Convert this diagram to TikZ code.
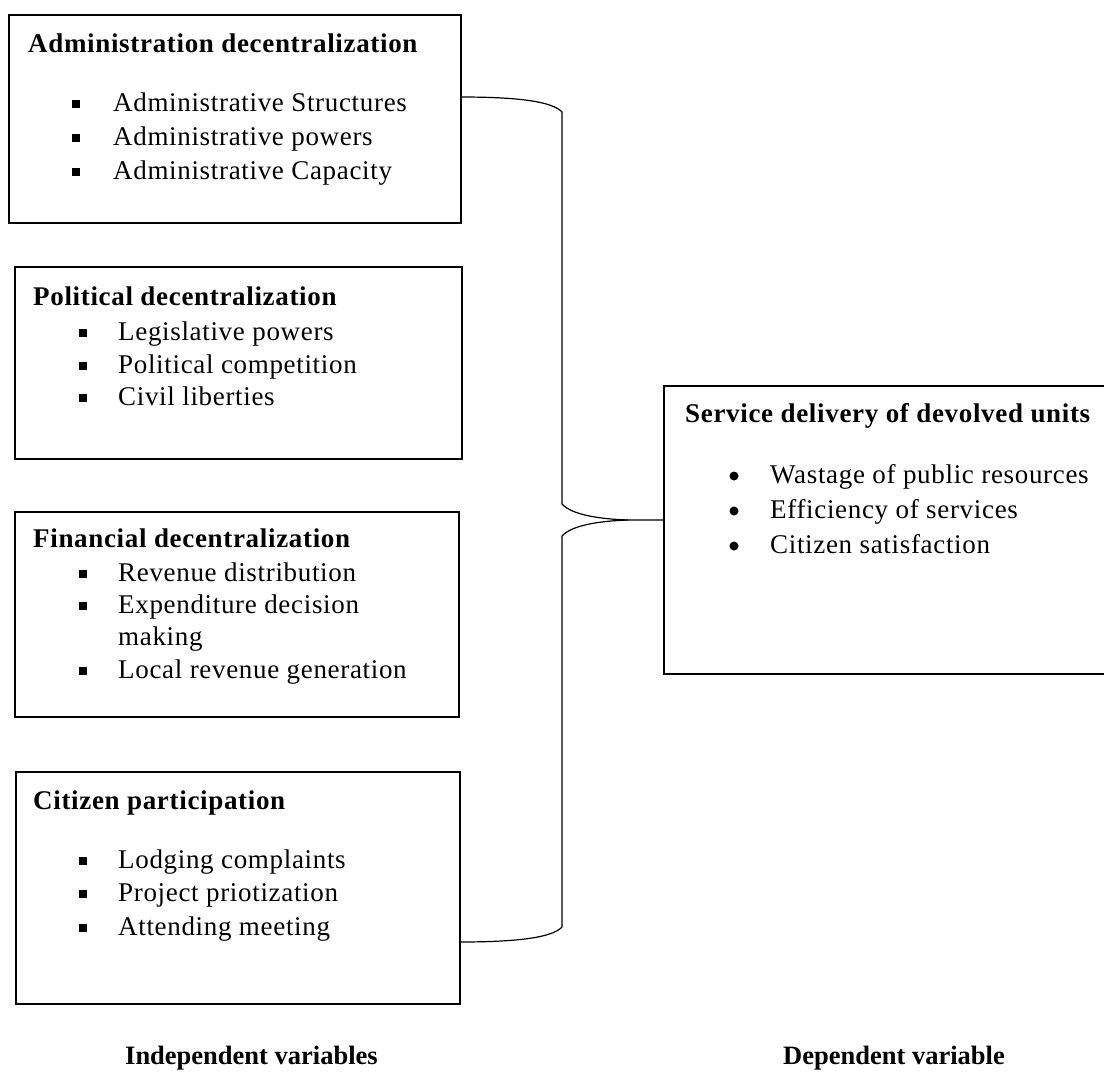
\documentclass[tikz,border=0pt]{standalone}
\usepackage{fontspec}
\setmainfont{Liberation Serif}
\newfontfamily\bxfont{Liberation Serif}[LetterSpace=2.5]
\begin{document}
\begin{tikzpicture}[x=1pt,y=-1pt,
  box/.style={draw, line width=1.2pt, anchor=north west, inner sep=0pt, outer sep=0pt},
  txt/.style={anchor=base west, inner sep=0pt, font=\bxfont\fontsize{27}{32}\selectfont},
  ttl/.style={anchor=base west, inner sep=0pt, font=\bxfont\bfseries\fontsize{27}{32}\selectfont},
  lbl/.style={anchor=base west, inner sep=0pt, font=\bfseries\fontsize{26.5}{32}\selectfont},
  conn/.style={line width=1.2pt}]
\clip (0,0) rectangle (1104,1072);
\fill[white] (0,0) rectangle (1104,1072);

% boxes
\node[box, minimum width=452pt, minimum height=208pt] (admin) at (9,15) {};
\node[box, minimum width=447pt, minimum height=192pt] (pol) at (15,267) {};
\node[box, minimum width=444pt, minimum height=205pt] (fin) at (15,512) {};
\node[box, minimum width=444pt, minimum height=232pt] (cit) at (16,772) {};
\node[box, minimum width=460pt, minimum height=288pt] (svc) at (664,386) {};

% administration
\node[ttl] (adminT) at (28,52) {Administration decentralization};
\node[txt] (a1) at (113,111) {Administrative Structures};
\node[txt] (a2) at (113,145) {Administrative powers};
\node[txt] (a3) at (113,179) {Administrative Capacity};
\foreach \b in {111,145,179} \fill (72,\b-11) rectangle +(8,8);

% political
\node[ttl] (polT) at (33,305) {Political decentralization};
\node[txt] (p1) at (118,340) {Legislative powers};
\node[txt] (p2) at (118,373) {Political competition};
\node[txt] (p3) at (118,405) {Civil liberties};
\foreach \b in {340,373,405} \fill (79,\b-11) rectangle +(8,8);

% financial
\node[ttl] (finT) at (33,547) {Financial decentralization};
\node[txt] (f1) at (118,581) {Revenue distribution};
\node[txt] (f2) at (118,613) {Expenditure decision};
\node[txt] (f2b) at (118,645) {making};
\node[txt] (f3) at (118,678) {Local revenue generation};
\foreach \b in {581,613,678} \fill (79,\b-11) rectangle +(8,8);

% citizen
\node[ttl] (citT) at (33,809) {Citizen participation};
\node[txt] (c1) at (118,868) {Lodging complaints};
\node[txt] (c2) at (118,901) {Project priotization};
\node[txt] (c3) at (118,935) {Attending meeting};
\foreach \b in {868,901,935} \fill (79,\b-11) rectangle +(8,8);

% service delivery
\node[ttl] (svcT) at (685,422) {Service delivery of devolved units};
\node[txt] (s1) at (770,483) {Wastage of public resources};
\node[txt] (s2) at (770,518) {Efficiency of services};
\node[txt] (s3) at (770,553) {Citizen satisfaction};
\foreach \b in {483,518,553} \fill (734,\b-7) circle (4.5);

% bottom labels
\node[lbl] (indep) at (125,1064) {Independent variables};
\node[lbl] (dep) at (783,1064) {Dependent variable};

% brace connector
\coordinate (t1) at (461,97);
\coordinate (b1) at (459,942);
\coordinate (tipA) at (628,520);
\coordinate (tip) at (664,520);
\draw[conn] (t1) .. controls (515,97) and (552,101) .. (562,112) -- (562,504)
  .. controls (572,515) and (600,519) .. (tipA) -- (tip);
\draw[conn] (tipA) .. controls (600,521) and (572,525) .. (562,536) -- (562,927)
  .. controls (552,938) and (515,942) .. (b1);
\end{tikzpicture}
\end{document}
